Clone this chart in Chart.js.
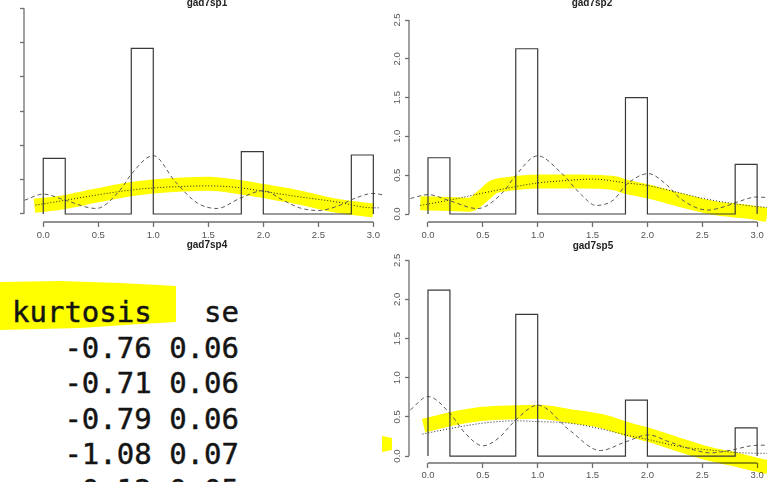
<!DOCTYPE html>
<html>
<head>
<meta charset="utf-8">
<title>gad7 histograms</title>
<script src="https://cdn.jsdelivr.net/npm/chart.js@4.4.1/dist/chart.umd.min.js"></script>
<style>
  html, body { margin: 0; padding: 0; background: #fff; }
  body { width: 767px; height: 482px; position: relative; overflow: hidden; }
  canvas { position: absolute; }
  #c1 { left: 0; top: 0; }
  #c2 { left: 385px; top: 0; }
  #c5 { left: 385px; top: 240px; }
  .title { position: absolute; width: 120px; margin-left: -60px; text-align: center;
           font: bold 10px/10px "Liberation Sans", Arial, sans-serif; color: #222; }
  #console { position: absolute; left: 0; top: 254px; width: 382px; height: 228px;
             background: #fff; z-index: 5; overflow: hidden; }
  #console .mark { position: absolute; left: 0; top: 27px; width: 176px; height: 50px; background: #ffff00;
                   clip-path: polygon(0 1px, 60px 0, 120px 2px, 176px 5px, 176px 41px, 140px 43px, 80px 47px, 0 49px); }
  #console pre { position: absolute; left: 12px; top: 41px; margin: 0;
                 font: 29px/35.5px "DejaVu Sans Mono", monospace; color: #141414;
                 -webkit-text-stroke: 0.45px #141414; }
  #peek { position: absolute; left: 382px; top: 436px; width: 10px; height: 16px; background: #ffff00;
          clip-path: polygon(0 0, 10px 2px, 10px 14px, 0 16px); }
</style>
</head>
<body>
<canvas id="c1" width="385" height="250"></canvas>
<canvas id="c2" width="382" height="250"></canvas>
<canvas id="c5" width="382" height="242"></canvas>

<div class="title" style="left:207px; top:-2px;">gad7sp1</div>
<div class="title" style="left:592px; top:-2px;">gad7sp2</div>
<div class="title" style="left:207px; top:240px;">gad7sp4</div>
<div class="title" style="left:593px; top:241px;">gad7sp5</div>

<div id="peek"></div>
<div id="console">
  <div class="mark"></div>
<pre>kurtosis   se
   -0.76 0.06
   -0.71 0.06
   -0.79 0.06
   -1.08 0.07
   -0.12 0.05</pre>
</div>

<script>
// histogram breaks (bin width 0.2) and axis ticks
const breaks = [0, 0.2, 0.4, 0.6, 0.8, 1.0, 1.2, 1.4, 1.6, 1.8, 2.0, 2.2, 2.4, 2.6, 2.8, 3.0];
const xTicks = [0, 0.5, 1, 1.5, 2, 2.5, 3];
const yTicksSp1 = [0, 0.5, 1, 1.5, 2, 2.5, 3];
const yTicks = [0, 0.5, 1, 1.5, 2, 2.5];

// gad7sp1
const densSp1 = [0.81, 0, 0, 0, 2.415, 0, 0, 0, 0, 0.91, 0, 0, 0, 0, 0.86];
const kdeXSp1 = [-0.17, 0, 0.2, 0.48, 0.7, 0.8, 1.0, 1.2, 1.4, 1.58, 1.79, 2.0, 2.18, 2.33, 2.5, 2.7, 2.82, 3.0, 3.11];
const kdeYSp1 = [0.20, 0.29, 0.20, 0.08, 0.35, 0.58, 0.85, 0.47, 0.16, 0.08, 0.23, 0.34, 0.20, 0.09, 0.05, 0.13, 0.22, 0.30, 0.27];
const normXSp1 = [-0.07, 0.2, 0.5, 0.8, 1.0, 1.25, 1.5, 1.8, 2.0, 2.33, 2.65, 3.0, 3.05];
const normYSp1 = [0.13, 0.20, 0.28, 0.35, 0.38, 0.40, 0.41, 0.38, 0.33, 0.25, 0.18, 0.09, 0.09];
const markXSp1 = [-0.08, 0.18, 0.49, 0.79, 1.0, 1.5, 1.79, 1.98, 2.33, 2.63, 3.0];
const markYSp1 = [0.12, 0.17, 0.27, 0.36, 0.40, 0.44, 0.39, 0.34, 0.24, 0.13, 0.05];

// gad7sp2
const densSp2 = [0.725, 0, 0, 0, 2.13, 0, 0, 0, 0, 1.50, 0, 0, 0, 0, 0.64];
const kdeXSp2 = [-0.16, 0, 0.2, 0.45, 0.69, 0.79, 1.0, 1.2, 1.4, 1.53, 1.69, 1.81, 2.01, 2.18, 2.3, 2.55, 2.69, 2.83, 3.0, 3.09];
const kdeYSp2 = [0.20, 0.25, 0.17, 0.07, 0.29, 0.48, 0.75, 0.55, 0.245, 0.11, 0.18, 0.38, 0.52, 0.37, 0.20, 0.05, 0.09, 0.16, 0.22, 0.21];
const normXSp2 = [-0.07, 0.2, 0.5, 0.79, 1.0, 1.25, 1.5, 1.81, 2.01, 2.3, 2.51, 2.83, 3.0, 3.09];
const normYSp2 = [0.11, 0.18, 0.27, 0.35, 0.40, 0.43, 0.45, 0.40, 0.365, 0.27, 0.20, 0.125, 0.095, 0.085];
const markXSp2 = [-0.07, 0.2, 0.38, 0.5, 0.6, 0.72, 1.0, 1.4, 1.69, 1.81, 2.01, 2.3, 2.6, 2.9, 3.09];
const markYSp2 = [0.14, 0.13, 0.12, 0.235, 0.35, 0.385, 0.42, 0.42, 0.40, 0.35, 0.29, 0.18, 0.08, 0.03, -0.01];

// gad7sp5
const densSp5 = [2.12, 0, 0, 0, 1.81, 0, 0, 0, 0, 0.715, 0, 0, 0, 0, 0.36];
const kdeXSp5 = [-0.16, 0, 0.2, 0.34, 0.5, 0.64, 0.8, 1.0, 1.29, 1.57, 1.8, 2.01, 2.2, 2.42, 2.57, 2.78, 2.94, 3.09];
const kdeYSp5 = [0.59, 0.76, 0.545, 0.29, 0.13, 0.225, 0.46, 0.65, 0.33, 0.07, 0.18, 0.27, 0.18, 0.08, 0.04, 0.08, 0.13, 0.14];
const normXSp5 = [-0.05, 0.2, 0.5, 0.8, 1.0, 1.29, 1.6, 1.8, 2.01, 2.3, 2.57, 2.81, 3.04, 3.09];
const normYSp5 = [0.28, 0.35, 0.42, 0.45, 0.44, 0.42, 0.34, 0.27, 0.21, 0.12, 0.077, 0.045, 0.035, 0.035];
const markXSp5 = [-0.04, 0.2, 0.5, 0.8, 1.0, 1.29, 1.6, 1.8, 2.01, 2.3, 2.57, 2.81, 3.04, 3.1];
const markYSp5 = [0.385, 0.47, 0.54, 0.56, 0.565, 0.51, 0.44, 0.35, 0.27, 0.14, 0.025, -0.045, -0.125, -0.14];

const axisGrey = '#6f6f6f';
const barColor = '#3a3a3a';
const tickFont = { family: '"Liberation Sans", Arial, sans-serif', size: 9.5 };

function histOutline(dens) {
    const pts = [];
    dens.forEach((h, i) => {
        pts.push({ x: breaks[i], y: 0 }, { x: breaks[i], y: h }, { x: breaks[i + 1], y: h }, { x: breaks[i + 1], y: 0 });
    });
    return pts;
}

function zipPoints(xs, ys) {
    return xs.map((x, i) => ({ x: x, y: ys[i] }));
}

// R style axis lines: only from first to last tick
const rAxisLines = {
    id: 'rAxisLines',
    beforeDatasetsDraw(chart) {
        const ctx = chart.ctx;
        const { x, y } = chart.scales;
        const area = chart.chartArea;
        const xt = x.ticks, yt = y.ticks;
        ctx.save();
        ctx.strokeStyle = axisGrey;
        ctx.lineWidth = 1.3;
        ctx.beginPath();
        ctx.moveTo(x.getPixelForValue(xt[0].value), area.bottom);
        ctx.lineTo(x.getPixelForValue(xt[xt.length - 1].value), area.bottom);
        ctx.moveTo(area.left, y.getPixelForValue(yt[0].value));
        ctx.lineTo(area.left, y.getPixelForValue(yt[yt.length - 1].value));
        ctx.stroke();
        ctx.restore();
    }
};

// highlighter stroke blends like a marker pen
const highlighter = {
    id: 'highlighter',
    beforeDatasetDraw(chart, args) {
        if (chart.data.datasets[args.index].label === 'highlight') {
            chart.ctx.save();
            chart.ctx.globalCompositeOperation = 'multiply';
        }
    },
    afterDatasetDraw(chart, args) {
        if (chart.data.datasets[args.index].label === 'highlight') {
            chart.ctx.restore();
        }
    }
};

function drawPanel(id, p) {
    new Chart(document.getElementById(id), {
        type: 'line',
        data: {
            datasets: [
                { label: 'hist', data: histOutline(p.dens), borderColor: barColor, borderWidth: 1.2,
                  tension: 0, pointRadius: 0 },
                { label: 'density', data: zipPoints(p.kdeX, p.kdeY), borderColor: '#5a5a5a', borderWidth: 1,
                  borderDash: [4, 3], cubicInterpolationMode: 'monotone', pointRadius: 0 },
                { label: 'normal', data: zipPoints(p.normX, p.normY), borderColor: '#222', borderWidth: 1,
                  borderDash: [1, 2], cubicInterpolationMode: 'monotone', pointRadius: 0 },
                { label: 'highlight', data: zipPoints(p.markX, p.markY), borderColor: '#ffff00', borderWidth: 14,
                  borderCapStyle: 'butt', cubicInterpolationMode: 'monotone', pointRadius: 0, clip: false }
            ]
        },
        options: {
            responsive: false,
            animation: false,
            devicePixelRatio: 1,
            events: [],
            layout: { padding: 0 },
            plugins: { legend: { display: false }, tooltip: { enabled: false } },
            scales: {
                x: {
                    type: 'linear',
                    min: p.xMin,
                    max: p.xMax,
                    afterBuildTicks: s => { s.ticks = xTicks.map(v => ({ value: v })); },
                    afterFit: s => { s.height = p.xAxisH; s.paddingLeft = 0; s.paddingRight = 0; },
                    border: { display: false },
                    grid: { drawOnChartArea: false, tickLength: 5, tickColor: axisGrey, tickWidth: 1.3 },
                    ticks: { font: tickFont, color: '#555', padding: p.xPad, maxRotation: 0, autoSkip: false,
                             callback: v => v.toFixed(1) }
                },
                y: {
                    type: 'linear',
                    min: p.yMin,
                    max: p.yMax,
                    afterBuildTicks: s => { s.ticks = p.yTicks.map(v => ({ value: v })); },
                    afterFit: s => { s.width = 24; s.paddingTop = 0; s.paddingBottom = 0; },
                    border: { display: false },
                    grid: { drawOnChartArea: false, tickLength: 4, tickColor: axisGrey, tickWidth: 1.3 },
                    ticks: { display: p.yLabels, font: tickFont, color: '#555', padding: 1, minRotation: 90,
                             maxRotation: 90, crossAlign: 'center', autoSkip: false, callback: v => v.toFixed(1) }
                }
            }
        },
        plugins: [rAxisLines, highlighter]
    });
}

drawPanel('c1', {
    dens: densSp1, kdeX: kdeXSp1, kdeY: kdeYSp1, normX: normXSp1, normY: normYSp1, markX: markXSp1, markY: markYSp1,
    xMin: -0.175, xMax: 3.106, yMin: -0.117, yMax: 3.12, yTicks: yTicksSp1, yLabels: false, xAxisH: 28, xPad: 3
});
drawPanel('c2', {
    dens: densSp2, kdeX: kdeXSp2, kdeY: kdeYSp2, normX: normXSp2, normY: normYSp2, markX: markXSp2, markY: markYSp2,
    xMin: -0.173, xMax: 3.09, yMin: -0.103, yMax: 2.758, yTicks: yTicks, yLabels: true, xAxisH: 28, xPad: 3
});
drawPanel('c5', {
    dens: densSp5, kdeX: kdeXSp5, kdeY: kdeYSp5, normX: normXSp5, normY: normYSp5, markX: markXSp5, markY: markYSp5,
    xMin: -0.173, xMax: 3.09, yMin: -0.089, yMax: 2.759, yTicks: yTicks, yLabels: true, xAxisH: 19, xPad: 2
});
</script>
</body>
</html>
